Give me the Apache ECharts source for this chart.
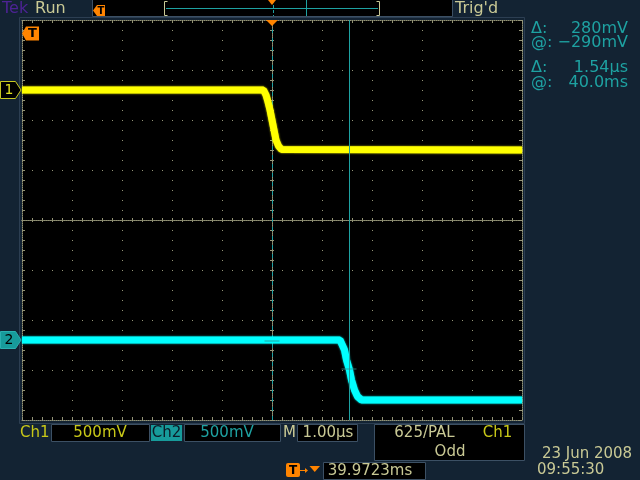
<!DOCTYPE html>
<html><head><meta charset="utf-8">
<script src="https://cdn.jsdelivr.net/npm/echarts@6/dist/echarts.min.js"></script>
<style>html,body{margin:0;padding:0;background:#132333;}#c{width:640px;height:480px;}</style>
</head><body><div id="c"></div>
<script>
const ch1TimeUs = [-5, -0.17, -0.12, -0.09, -0.04, 0, 0.04, 0.08, 0.13, 0.19, 5];
const ch1mV     = [0, 0, -50, -100, -200, -300, -400, -500, -560, -595, -600];
const ch2TimeUs = [-5, 1.36, 1.45, 1.49, 1.55, 1.59, 1.65, 1.71, 1.79, 5];
const ch2mV     = [0, 0, -100, -200, -300, -400, -500, -565, -600, -600];
const cursorTimesUs = [0, 1.54];
const cursorCh2mV = [-10, -290];
const mVPerDiv = 500;
const ch1OffsetDiv = 2.6;
const ch2OffsetDiv = -2.4;
const timeRangeUs = [-5, 5];
const divRange = [-4, 4];
const readoutLabels = ['Δ:', '@:', 'Δ:', '@:'];
const readoutValues = ['280mV', '−290mV', '1.54µs', '40.0ms'];
const chScaleTexts = ['500mV', '500mV'];
const timebaseText = '1.00µs';
const triggerTexts = ['625/PAL', 'Ch1', 'Odd'];
const dateTexts = ['23 Jun 2008', '09:55:30'];
const horizPosText = '39.9723ms';

// ---- styling ----
const GRAT = '#939376';
const BEIGE = '#c9c995';
const YEL_TXT = '#c8c818';
const TEAL = '#1ea2a2';
const ORANGE = '#ff8400';
const BOXLINE = '#3c5064';
const FONT = '"DejaVu Sans", sans-serif';

const chart = echarts.init(document.getElementById('c'), null, {renderer: 'canvas'});

function frameAxis(pos, split) {
  return {
    position: pos,
    axisLabel: {show: false},
    axisLine: {show: true, onZero: false, lineStyle: {color: GRAT, width: 1, type: [1, 1]}},
    axisTick: {show: true, inside: true, length: 3, lineStyle: {color: GRAT}},
    minorTick: {show: true, splitNumber: 5, length: 3, lineStyle: {color: GRAT}},
    splitLine: {show: split, lineStyle: {color: GRAT, width: 1, type: [1, 9]}}
  };
}
function crossAxis(pos, inside) {
  return {
    position: pos,
    axisLabel: {show: false},
    axisLine: {show: true, onZero: true, onZeroAxisIndex: 0, lineStyle: {color: GRAT, width: 1, type: [1, 1]}},
    axisTick: {show: true, inside: inside, length: 2, lineStyle: {color: GRAT}},
    minorTick: {show: true, splitNumber: 5, length: 2, lineStyle: {color: GRAT}},
    splitLine: {show: false}
  };
}
const xBase = {type: 'value', min: timeRangeUs[0], max: timeRangeUs[1], interval: 1};
const yBase = {type: 'value', min: divRange[0], max: divRange[1], interval: 1};

const ch1Center = -ch1OffsetDiv * mVPerDiv;
const ch2Center = -ch2OffsetDiv * mVPerDiv;
const halfSpan = (divRange[1] - divRange[0]) / 2 * mVPerDiv;

const option = {
  animation: false,
  backgroundColor: '#132333',
  grid: {left: 22, top: 20, width: 500, height: 400, show: true, backgroundColor: '#000', borderWidth: 0},
  xAxis: [
    Object.assign({}, xBase, frameAxis('bottom', true)),
    Object.assign({}, xBase, frameAxis('top', false)),
    Object.assign({}, xBase, crossAxis('bottom', true)),
    Object.assign({}, xBase, crossAxis('bottom', false))
  ],
  yAxis: [
    Object.assign({}, yBase, frameAxis('left', true)),
    Object.assign({}, yBase, frameAxis('right', false)),
    Object.assign({}, yBase, crossAxis('left', true)),
    Object.assign({}, yBase, crossAxis('left', false)),
    {type: 'value', show: false, min: ch1Center - halfSpan, max: ch1Center + halfSpan},
    {type: 'value', show: false, min: ch2Center - halfSpan, max: ch2Center + halfSpan}
  ],
  series: [
    {
      type: 'line', name: 'Ch1', xAxisIndex: 0, yAxisIndex: 4, z: 3,
      data: ch1TimeUs.map((t, i) => [t, ch1mV[i]]),
      symbol: 'none', showSymbol: false,
      lineStyle: {color: '#ffff00', width: 7, shadowBlur: 2, shadowColor: 'rgba(255,255,0,0.9)'},
      markLine: {
        silent: true, symbol: 'none', z: 1, label: {show: false}, animation: false,
        lineStyle: {color: TEAL, width: 1, type: [4, 5]},
        data: [{xAxis: cursorTimesUs[0]}]
      }
    },
    {
      type: 'line', name: 'Ch2', xAxisIndex: 0, yAxisIndex: 5, z: 3,
      data: ch2TimeUs.map((t, i) => [t, ch2mV[i]]),
      symbol: 'none', showSymbol: false,
      lineStyle: {color: '#00ffff', width: 7, shadowBlur: 2, shadowColor: 'rgba(0,255,255,0.9)'}
    },
    {
      type: 'scatter', name: 'cursors', xAxisIndex: 0, yAxisIndex: 5, z: 6,
      data: cursorTimesUs.map((t, i) => [t, cursorCh2mV[i]]),
      symbol: 'rect', symbolSize: [15, 1], itemStyle: {color: '#2a8c8c'},
      markLine: {
        silent: true, symbol: 'none', z: 6, label: {show: false}, animation: false,
        lineStyle: {color: TEAL, width: 1, type: 'solid'},
        data: [{xAxis: cursorTimesUs[1]}]
      }
    }
  ]
};
chart.setOption(option);

// ---- screen chrome ----
const ch1Y = chart.convertToPixel({yAxisIndex: 4}, 0);
const ch2Y = chart.convertToPixel({yAxisIndex: 5}, 0);
const trigX = chart.convertToPixel({xAxisIndex: 0}, 0);
const gL = chart.convertToPixel({xAxisIndex: 0}, timeRangeUs[0]);
const gT = chart.convertToPixel({yAxisIndex: 0}, divRange[1]);

function txt(x, y, s, color, size, align, weight) {
  return {type: 'text', x: x, y: y, z: 20, silent: true,
    style: {text: s, fill: color, font: (weight || 'normal') + ' ' + size + 'px ' + FONT,
      textAlign: align || 'left', align: align || 'left', textVerticalAlign: 'middle', verticalAlign: 'middle'}};
}
function box(x, y, w, h) {
  return {type: 'rect', z: 10, silent: true, shape: {x: x, y: y, width: w, height: h},
    style: {fill: '#000', stroke: BOXLINE, lineWidth: 1}};
}
function poly(points, fill, stroke) {
  return {type: 'polygon', z: 12, silent: true, shape: {points: points},
    style: {fill: fill, stroke: stroke || null, lineWidth: 1}};
}
function line(x1, y1, x2, y2, color, dash) {
  return {type: 'line', z: 12, silent: true, shape: {x1: x1, y1: y1, x2: x2, y2: y2},
    style: {stroke: color, lineWidth: 1, lineDash: dash || null}};
}

const g = [];
// frame around graticule
g.push({type: 'rect', z: 1, silent: true, shape: {x: 19.5, y: 17.5, width: 505, height: 406},
  style: {fill: null, stroke: '#2c3e52', lineWidth: 1}});
// top bar
g.push(box(92.5, -0.5, 360, 17));
g.push(txt(2, 9, 'Tek', '#4c2394', 16));
g.push(txt(35, 9, 'Run', BEIGE, 16));
g.push(txt(455, 9, "Trig'd", BEIGE, 16));
g.push(poly([[93, 10.5], [97, 5], [105, 5], [105, 16], [97, 16]], ORANGE));
g.push(txt(101, 11, 'T', '#000', 10, 'center', 'bold'));
g.push({type: 'polyline', z: 12, silent: true, shape: {points: [[167.5, 1.5], [164.5, 1.5], [164.5, 15.5], [167.5, 15.5]]}, style: {stroke: BEIGE, lineWidth: 1, fill: null}});
g.push({type: 'polyline', z: 12, silent: true, shape: {points: [[376.5, 1.5], [379.5, 1.5], [379.5, 15.5], [376.5, 15.5]]}, style: {stroke: BEIGE, lineWidth: 1, fill: null}});
g.push(line(166, 8.5, 378, 8.5, TEAL));
g.push(line(306.5, 0, 306.5, 16, TEAL));
g.push(line(273.5, 5, 273.5, 16, TEAL, [3, 2]));
g.push(poly([[268, 0], [276, 0], [272, 5]], ORANGE));
// trigger position marker at top of graticule
g.push(poly([[trigX - 6, gT], [trigX + 6, gT], [trigX, gT + 6]], ORANGE));
// trigger level marker (left)
g.push(poly([[gL, 33.5], [gL + 4, 26.5], [gL + 17, 26.5], [gL + 17, 40.5], [gL + 4, 40.5]], ORANGE));
g.push(txt(gL + 10.5, 34, 'T', '#000', 13, 'center', 'bold'));
// channel ground markers
g.push(poly([[0.5, ch1Y - 8.5], [15.5, ch1Y - 8.5], [21, ch1Y], [15.5, ch1Y + 8.5], [0.5, ch1Y + 8.5]], '#000', '#c8c820'));
g.push(txt(9, ch1Y + 0.5, '1', '#e0e020', 14, 'center'));
g.push(poly([[0.5, ch2Y - 8.5], [15.5, ch2Y - 8.5], [21, ch2Y], [15.5, ch2Y + 8.5], [0.5, ch2Y + 8.5]], '#179b9b', '#2ab0b0'));
g.push(txt(9, ch2Y + 0.5, '2', '#000', 14, 'center'));
// right readouts
const rY = [29, 43, 68, 83];
for (let i = 0; i < 4; i++) {
  g.push(txt(531, rY[i], readoutLabels[i], TEAL, 16));
  g.push(txt(628, rY[i], readoutValues[i], TEAL, 16, 'right'));
}
// bottom bar
g.push(txt(20, 433, 'Ch1', YEL_TXT, 15));
g.push(box(51.5, 424.5, 98, 17));
g.push(txt(100, 433, chScaleTexts[0], YEL_TXT, 15, 'center'));
g.push({type: 'rect', z: 10, silent: true, shape: {x: 151, y: 425, width: 31, height: 16}, style: {fill: '#179b9b'}});
g.push(txt(166.5, 433, 'Ch2', '#0c1c28', 15, 'center'));
g.push(box(184.5, 424.5, 96, 17));
g.push(txt(227, 433, chScaleTexts[1], TEAL, 15, 'center'));
g.push(txt(289.5, 433, 'M', BEIGE, 15, 'center'));
g.push(box(297.5, 424.5, 60, 17));
g.push(txt(328, 433, timebaseText, BEIGE, 15, 'center'));
g.push(box(374.5, 424.5, 150, 36));
g.push(txt(424.5, 433, triggerTexts[0], BEIGE, 15, 'center'));
g.push(txt(497.5, 433, triggerTexts[1], YEL_TXT, 15, 'center'));
g.push(txt(450, 452, triggerTexts[2], BEIGE, 15, 'center'));
g.push(txt(587, 454, dateTexts[0], BEIGE, 15, 'center'));
g.push(txt(537, 470, dateTexts[1], BEIGE, 15));
g.push(box(323.5, 462.5, 102, 17));
g.push(txt(370, 471, horizPosText, BEIGE, 15, 'center'));
g.push({type: 'rect', z: 12, silent: true, shape: {x: 286, y: 463, width: 14, height: 14, r: 2}, style: {fill: ORANGE}});
g.push(txt(293, 470.5, 'T', '#000', 12, 'center', 'bold'));
g.push(line(300, 470.5, 307, 470.5, ORANGE));
g.push(poly([[305, 468], [308, 470.5], [305, 473]], ORANGE));
g.push(poly([[309.5, 466], [320, 466], [314.75, 472]], ORANGE));

chart.setOption({graphic: {elements: g}});
</script>
</body></html>
